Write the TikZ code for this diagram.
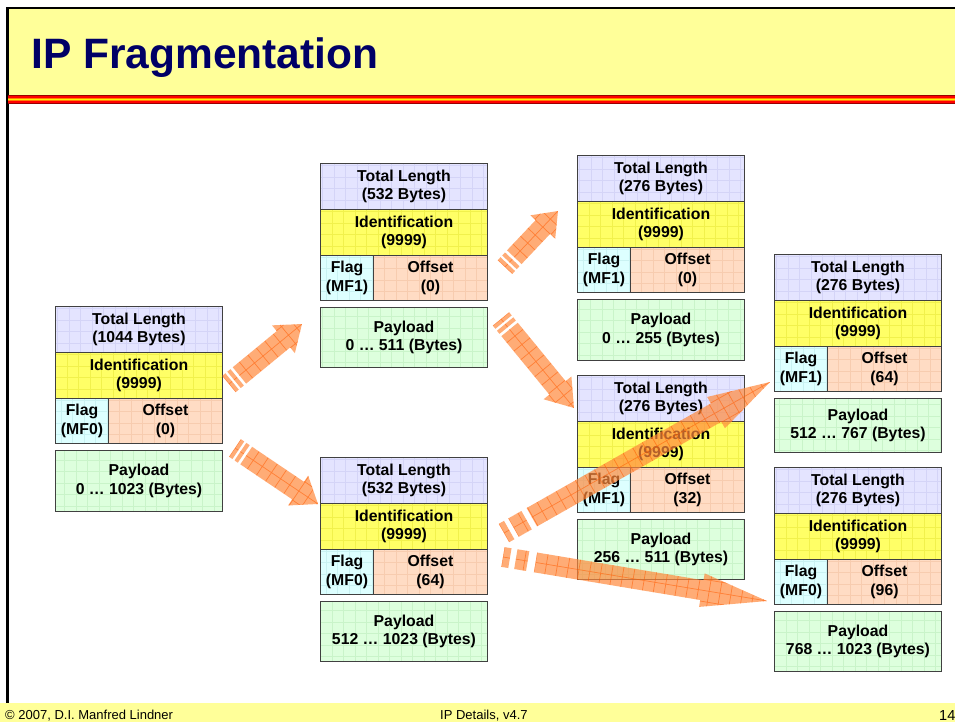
\documentclass[tikz,border=0pt]{standalone}
\usepackage{fontspec}
\setmainfont{Liberation Sans}
\usetikzlibrary{calc}

\definecolor{tlc}{HTML}{E4E4FF}
\definecolor{tlg}{HTML}{CACAF2}
\definecolor{idc}{HTML}{FFFF66}
\definecolor{idg}{HTML}{E8E83C}
\definecolor{flc}{HTML}{DDFFFF}
\definecolor{flg}{HTML}{BCEAEA}
\definecolor{ofc}{HTML}{FFDCC4}
\definecolor{ofg}{HTML}{F2C2A2}
\definecolor{pyc}{HTML}{DDFFDD}
\definecolor{pyg}{HTML}{BCEEBC}
\definecolor{titlec}{HTML}{000066}
\definecolor{bandc}{HTML}{FFFF99}
\definecolor{arrc}{HTML}{FF8A3D}
\definecolor{arrg}{HTML}{FF5A00}
\definecolor{darkred}{HTML}{990000}

\tikzset{
  gridded/.style={path picture={\draw[#1, line width=0.45pt, opacity=0.6]
      (path picture bounding box.south west) grid[step=11.5pt] (path picture bounding box.north east);}},
  field/.style={draw=black!75, line width=1pt, inner sep=0pt, anchor=north west,
      align=center, text=black,
      font=\fontsize{15.8}{18.5}\selectfont\bfseries},
  tlf/.style={field, fill=tlc, gridded=tlg, minimum width=167pt, minimum height=46pt},
  idf/.style={field, fill=idc, gridded=idg, minimum width=167pt, minimum height=46pt},
  flf/.style={field, fill=flc, gridded=flg, minimum width=53pt, minimum height=45pt},
  off/.style={field, fill=ofc, gridded=ofg, minimum width=114pt, minimum height=45pt},
  pyf/.style={field, fill=pyc, gridded=pyg, minimum width=167pt},
  foot/.style={anchor=base west, inner sep=0pt, font=\fontsize{13}{13}\selectfont, text=black},
}

% packet: name, x, y, length, flag, offset, payload text, payload height
\newcommand\packet[8]{%
  \node[tlf] (#1tl) at (#2,#3) {Total Length\\(#4 Bytes)};
  \node[idf] (#1id) at (#2,#3+46) {Identification\\(9999)};
  \node[flf] (#1fl) at (#2,#3+92) {Flag\\(#5)};
  \node[off] (#1of) at (#2+53,#3+92) {Offset\\(#6)};
  \node[pyf, minimum height=#8pt] (#1py) at (#2,#3+144) {Payload\\#7};
}

% fat arrow: tail, tip, shaft w, head w, head len, stripe a, gap, stripe b, gap
\newcommand\fatarrow[9]{%
  \path let \p1=($(#2)-(#1)$) in \pgfextra{%
    \pgfmathsetmacro\tmpa{atan2(\y1,\x1)}\pgfmathsetmacro\tmpl{veclen(\x1,\y1)}%
    \xdef\arrang{\tmpa}\xdef\arrlen{\tmpl}};
  \begin{scope}[shift={(#1)}, rotate=\arrang]
    \pgfmathsetmacro\sa{#6}\pgfmathsetmacro\sb{#6+#7}%
    \pgfmathsetmacro\sc{#6+#7+#8}\pgfmathsetmacro\sd{#6+#7+#8+#9}%
    \pgfmathsetmacro\hb{\arrlen-#5}%
    \def\arrshape{(0,-#3/2) rectangle (\sa,#3/2) (\sb,-#3/2) rectangle (\sc,#3/2)
      (\sd,-#3/2) -- (\hb,-#3/2) -- (\hb,-#4/2) -- (\arrlen,0) -- (\hb,#4/2) -- (\hb,#3/2) -- (\sd,#3/2) -- cycle}%
    \fill[arrc, fill opacity=0.7] \arrshape;
    \begin{scope}
      \clip \arrshape;
      \draw[arrg, line width=0.7pt, opacity=0.55] (-6,-30) grid[step=11pt] (\arrlen+6,30);
    \end{scope}
  \end{scope}
}

\begin{document}
\begin{tikzpicture}[x=1pt,y=-1pt]
\useasboundingbox (0,0) rectangle (955,722);
\fill[white] (0,0) rectangle (955,722);

% header
\fill[bandc] (7,8) rectangle (955,95);
\fill[black] (6,7) rectangle (955,9.5);
\fill[black] (6,7) rectangle (8.5,703);
\fill[darkred] (8,95) rectangle (955,104);
\fill[red] (8,96.3) rectangle (955,102.7);
\fill[orange] (8,97.6) rectangle (955,101.4);
\fill[yellow] (8,98.8) rectangle (955,100.2);
\node[anchor=base west, inner sep=0pt, text=titlec, font=\fontsize{42.5}{42.5}\selectfont\bfseries] (title) at (31,68.5) {IP Fragmentation};

% footer
\fill[bandc] (0,703) rectangle (955,722);
\node[foot] (copy) at (5,719) {© 2007, D.I. Manfred Lindner};
\node[foot] (ver) at (440,719) {IP Details, v4.7};
\node[foot, font=\fontsize{14.5}{14.5}\selectfont] (pg) at (939,720) {14};

% packets
\packet{p}{55}{306}{1044}{MF0}{0}{0 … 1023 (Bytes)}{61}
\packet{a}{320}{163}{532}{MF1}{0}{0 … 511 (Bytes)}{60}
\packet{b}{320}{457}{532}{MF0}{64}{512 … 1023 (Bytes)}{60}
\packet{c}{577}{155}{276}{MF1}{0}{0 … 255 (Bytes)}{61}
\packet{d}{577}{375}{276}{MF1}{32}{256 … 511 (Bytes)}{60}
\packet{e}{774}{254}{276}{MF1}{64}{512 … 767 (Bytes)}{54}
\packet{f}{774}{467}{276}{MF0}{96}{768 … 1023 (Bytes)}{60}

% arrows
\coordinate (a1s) at (229,384); \coordinate (a1t) at (302,324);
\coordinate (a2s) at (235,448); \coordinate (a2t) at (318,504);
\coordinate (a3s) at (505,267); \coordinate (a3t) at (558,211);
\coordinate (a4s) at (501,319); \coordinate (a4t) at (574,408);
\coordinate (a5s) at (504,533); \coordinate (a5t) at (770,382);
\coordinate (a6s) at (503,557); \coordinate (a6t) at (767,601);
\fatarrow{a1s}{a1t}{21}{36}{24}{4}{2.5}{4}{3}
\fatarrow{a2s}{a2t}{21}{36}{24}{4}{2.5}{4}{3}
\fatarrow{a3s}{a3t}{20}{34}{22}{4}{2.5}{4}{3}
\fatarrow{a4s}{a4t}{21}{36}{26}{4}{2.5}{4}{3}
\fatarrow{a5s}{a5t}{21}{36}{62}{6}{5}{15}{6}
\fatarrow{a6s}{a6t}{20}{34}{66}{7}{6}{12}{8}
\end{tikzpicture}
\end{document}
